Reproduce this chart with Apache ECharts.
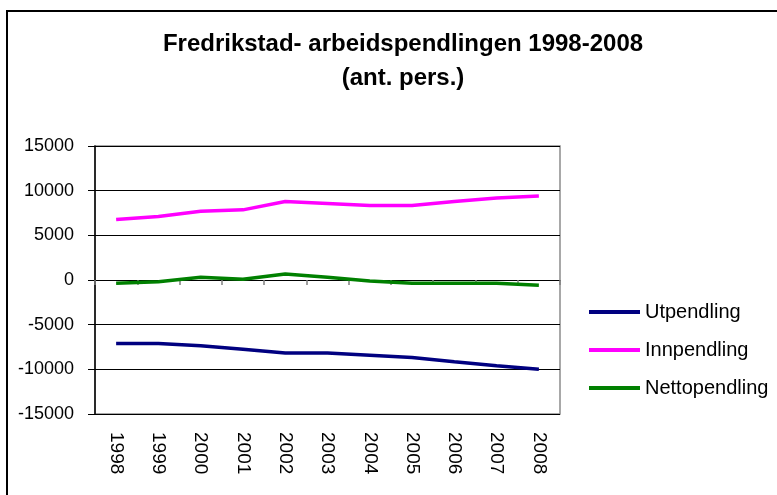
<!DOCTYPE html>
<html>
<head>
<meta charset="utf-8">
<style>
  html, body { margin: 0; padding: 0; background: #fff; }
  #chart { width: 777px; height: 495px; }
</style>
<script src="https://cdn.jsdelivr.net/npm/echarts@6/dist/echarts.min.js"></script>
</head>
<body>
<div id="chart"></div>
<script>
// Commuting figures for Fredrikstad, number of persons per year
const years = ['1998', '1999', '2000', '2001', '2002', '2003', '2004', '2005', '2006', '2007', '2008'];
const utpendling = [-7100, -7100, -7370, -7740, -8180, -8180, -8410, -8670, -9150, -9600, -10000];
const innpendling = [6770, 7100, 7700, 7850, 8780, 8560, 8330, 8330, 8780, 9190, 9410];
const nettopendling = [-370, -190, 300, 80, 670, 320, -110, -370, -370, -370, -590];
const yTicks = { min: -15000, max: 15000, interval: 5000 };

const FONT = 'Liberation Sans, Arial, sans-serif';

const chart = echarts.init(document.getElementById('chart'), null, { renderer: 'canvas' });

chart.setOption({
  backgroundColor: '#ffffff',
  animation: false,
  title: {
    text: 'Fredrikstad- arbeidspendlingen 1998-2008\n(ant. pers.)',
    left: 398,
    top: 22,
    textAlign: 'center',
    textStyle: { fontFamily: FONT, fontSize: 24, fontWeight: 'bold', color: '#000', lineHeight: 34 }
  },
  graphic: [{
    type: 'rect',
    shape: { x: 7, y: 11, width: 900, height: 700 },
    style: { fill: 'none', stroke: '#000', lineWidth: 2 },
    silent: true
  }],
  grid: {
    left: 95, right: 217, top: 146, bottom: 81,
    show: true, borderColor: '#8c8c8c', borderWidth: 1.5, backgroundColor: '#fff'
  },
  legend: {
    orient: 'vertical',
    left: 589,
    top: 302,
    padding: 0,
    icon: 'rect',
    itemWidth: 51,
    itemHeight: 4,
    itemGap: 18,
    textStyle: { fontFamily: FONT, fontSize: 20, color: '#000' },
    data: ['Utpendling', 'Innpendling', 'Nettopendling']
  },
  xAxis: [{
    // axis drawn through zero with tick marks between years
    type: 'category',
    data: years,
    boundaryGap: true,
    axisLine: { show: true, onZero: true, lineStyle: { color: '#000', width: 1 } },
    axisTick: { show: true, length: 5, lineStyle: { color: '#808080', width: 1.5 } },
    axisLabel: { show: false }
  }, {
    // year labels along the bottom edge
    type: 'category',
    data: years,
    position: 'bottom',
    boundaryGap: true,
    axisLine: { show: false, onZero: false },
    axisTick: { show: false },
    axisLabel: { rotate: -90, margin: 18, fontFamily: FONT, fontSize: 19, color: '#000' }
  }],
  yAxis: {
    type: 'value',
    min: yTicks.min,
    max: yTicks.max,
    interval: yTicks.interval,
    axisLine: { show: true, lineStyle: { color: '#000', width: 1.5 } },
    axisTick: { show: true, length: 7, lineStyle: { color: '#000' } },
    axisLabel: {
      margin: 21, fontFamily: FONT, fontSize: 18, color: '#000',
      formatter: (v) => String(v)
    },
    splitLine: { show: true, lineStyle: { color: '#000', width: 1 } }
  },
  series: [
    { name: 'Utpendling', type: 'line', xAxisIndex: 0, data: utpendling, symbol: 'none',
      lineStyle: { color: '#000080', width: 3.5 }, itemStyle: { color: '#000080' } },
    { name: 'Innpendling', type: 'line', xAxisIndex: 0, data: innpendling, symbol: 'none',
      lineStyle: { color: '#ff00ff', width: 3.5 }, itemStyle: { color: '#ff00ff' } },
    { name: 'Nettopendling', type: 'line', xAxisIndex: 0, data: nettopendling, symbol: 'none',
      lineStyle: { color: '#008000', width: 3.5 }, itemStyle: { color: '#008000' } }
  ]
});
</script>
</body>
</html>
